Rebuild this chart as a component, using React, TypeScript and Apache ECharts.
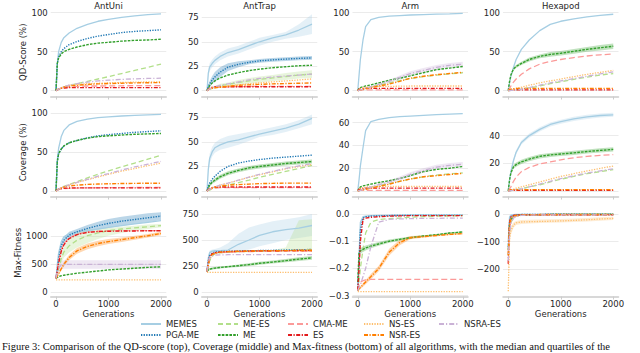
import React, { useEffect, useRef } from 'react';
import * as echarts from 'echarts';

// ---------- data ----------
const GENERATIONS = [0, 25, 50, 100, 150, 250, 400, 600, 800, 1000, 1250, 1500, 1750, 2000];
const ALGORITHMS = ['MEMES', 'PGA-ME', 'ME-ES', 'ME', 'CMA-ME', 'ES', 'NS-ES', 'NSR-ES', 'NSRA-ES'];
const TASKS = ['AntUni', 'AntTrap', 'Arm', 'Hexapod'];
const METRICS = ['QD-Score (%)', 'Coverage (%)', 'Max-Fitness'];
const X_TICKS = [0, 1000, 2000];
const Y_TICK_STEPS = [
  [50, 25, 50, 50],
  [50, 25, 20, 20],
  [500, 250, 0.1, 100],
];
const LEGEND_COLUMNS = [['MEMES', 'PGA-ME'], ['ME-ES', 'ME'], ['CMA-ME', 'ES'], ['NS-ES', 'NSR-ES'], ['NSRA-ES']];
const CAPTION = 'Figure 3: Comparison of the QD-score (top), Coverage (middle) and Max-fitness (bottom) of all algorithms, with the median and quartiles of the';

// rows follow ALGORITHMS order (null: no visible line in that panel)
const QD_ANTUNI = [
  [0, 35, 50, 62, 68, 74, 80, 85, 89, 91.5, 94, 96, 97.5, 98.5],
  [0, 35, 43, 50, 54, 59, 63, 67, 70, 72, 74.5, 76, 77, 78],
  [0, 1, 2, 3.5, 5, 6.5, 9, 12, 15, 18, 22, 26, 30, 34],
  [0, 35, 42, 47, 50, 53, 56, 59, 61, 62, 63.5, 64.5, 65, 66],
  [0, 1, 2, 3, 4, 5, 5.5, 6, 6, 6.2, 6.3, 6.4, 6.5, 6.5],
  [0, 1, 2, 3, 3.5, 4, 4, 4, 4, 4, 4, 4, 4, 4],
  [0, 1, 2, 4, 5, 7, 8, 9, 9.5, 10, 10.5, 11, 11.2, 11.5],
  [0, 1, 2, 3, 4.5, 6, 7, 8, 8.7, 9.2, 9.6, 10, 10.2, 10.4],
  [0, 1, 2, 3.5, 5, 7, 9, 11, 12.5, 13.5, 14.5, 15.2, 15.7, 16],
];
const QD_ANTTRAP = [
  [0, 18, 24, 28, 31, 35, 39, 42, 46, 50, 54, 57, 62, 68],
  [0, 4, 7, 11, 14, 19, 24, 27, 29, 30.5, 31.5, 32.3, 33, 33.5],
  [0, 1, 1.5, 2.5, 3.5, 5, 6.5, 8.5, 10, 11.5, 13, 14.5, 16, 17],
  [0, 3, 5, 8, 10, 13, 16, 18.5, 20.5, 22, 23.5, 24.5, 25.5, 26],
  [0, 1, 2, 3, 3.5, 4, 4, 4.2, 4.3, 4.4, 4.5, 4.5, 4.5, 4.5],
  [0, 1.5, 2.5, 3.5, 3.8, 4, 4, 4, 4, 4, 4, 4, 4, 4],
  [0, 1, 2, 2.5, 3, 4, 5, 6, 7, 8, 9, 10, 11, 12],
  [0, 1, 2, 2.5, 3, 3.5, 4.5, 5.5, 6, 6.5, 7, 7.3, 7.6, 8],
  [0, 1, 2, 3, 4, 5.5, 7, 9, 11, 12.5, 14, 15, 16, 17],
];
const QD_ARM = [
  [0, 20, 40, 65, 82, 91, 94, 95.5, 96.3, 97, 97.6, 98.1, 98.5, 99],
  null,
  [0, 0.5, 1, 2, 3, 5, 7, 10, 13, 15.5, 18, 20, 21.5, 23],
  [0, 3, 4, 5, 6, 7.5, 10, 13.5, 16, 19, 23, 27, 29, 31],
  [0, 0.5, 0.5, 1, 1, 1, 1, 1, 1, 1, 1, 1, 1, 1],
  [0, 2, 2.5, 3, 3, 3, 3, 3, 3, 3, 3, 3, 3, 3],
  [0, 2, 3, 4, 4.5, 5, 5.5, 5.5, 5.8, 6, 6, 6, 6, 6],
  [0, 0.5, 1, 1.5, 2.5, 4, 6, 8.5, 12, 16, 18.5, 20.5, 22, 23.5],
  [0, 0.5, 1, 2, 3, 5, 8, 12, 17, 22, 26, 30, 32.5, 34],
];
const QD_HEXAPOD = [
  [0, 10, 18, 30, 40, 53, 65, 77, 85, 89, 92, 94.5, 96.5, 98],
  null,
  [0, 0, 0.3, 0.6, 1, 2, 3.5, 6, 9, 11.5, 14.5, 17.5, 20, 22],
  [0, 12, 20, 28, 31, 35, 40, 44, 46.5, 48, 50.5, 53, 55, 57],
  [0, 3, 6, 11, 15, 21, 28, 34, 37.5, 40, 42.5, 44.5, 46, 47],
  [0, 0.5, 1, 1, 1, 1, 1, 1, 1, 1, 1, 1, 1, 1],
  [0, 0.5, 1, 2, 3, 4.5, 7, 10, 12.5, 15, 18, 21, 23.5, 26],
  [0, 1, 2, 2.5, 3, 3, 3, 3, 3, 3, 3, 3, 3, 3],
  [0, 0, 0.3, 0.6, 1, 2, 4, 7, 10, 12.5, 15.5, 18.5, 21.5, 24],
];

const COV_ANTUNI = [
  [0, 40, 55, 70, 78, 85, 89.5, 92.5, 94.5, 95.5, 96.5, 97.3, 98, 98.5],
  [0, 38, 48, 54, 58, 62, 65, 68.5, 71, 72.5, 74, 75.5, 76.5, 77.5],
  [0, 1, 2.5, 4, 6, 8.5, 12, 17, 21.5, 26, 31, 36, 41, 46],
  [0, 38, 48, 54, 58, 62, 65, 68, 70, 71, 72, 73, 73.5, 74],
  [0, 1, 2, 2.5, 3, 3.5, 3.8, 4, 4.2, 4.3, 4.4, 4.5, 4.5, 4.5],
  [0, 1.5, 2.5, 3, 3.5, 3.8, 4, 4, 4, 4, 4, 4, 4, 4],
  [0, 1, 2.5, 4, 5.5, 8, 11, 14.5, 18, 21.5, 25.5, 29, 32.5, 36],
  [0, 1, 2.5, 4, 5, 6.5, 7.5, 8.5, 9, 9.3, 9.6, 9.8, 10, 10],
  [0, 1, 2.5, 4, 5.5, 8, 11, 15, 19, 22.5, 27, 31, 34.5, 38],
];
const COV_ANTTRAP = [
  [0, 22, 33, 40, 44, 47, 50, 52, 55, 58, 61, 64, 68, 74],
  [0, 5, 8, 12, 15, 20, 25, 28.5, 30.5, 32, 33.5, 34.5, 35.5, 36.5],
  [0, 0.5, 1, 2, 3, 4, 6, 8.5, 11, 14, 17, 20, 23, 26],
  [0, 3, 6, 9, 11, 14.5, 18, 21, 23.5, 25, 26.5, 28, 29, 30],
  [0, 1, 2, 2.5, 3, 3.5, 3.5, 3.5, 3.5, 3.5, 3.5, 3.5, 3.5, 3.5],
  [0, 1.5, 2.5, 3.5, 3.8, 4, 4, 4, 4, 4, 4, 4, 4, 4],
  [0, 1, 2, 3, 4, 6, 8, 11, 14, 16.5, 19.5, 22.5, 25, 27],
  [0, 1, 2, 3, 4, 5, 6, 6.5, 7, 7.5, 7.8, 8, 8, 8],
  [0, 1, 2, 3, 4, 6, 8, 11, 14, 17, 20, 23, 25.5, 28],
];
const COV_ARM = [
  [0, 10, 22, 38, 53, 61, 63, 64.5, 65.3, 65.8, 66.4, 67, 67.5, 68],
  null,
  [0, 0.3, 0.6, 1, 2, 3, 4.5, 6.5, 8.5, 10.5, 12.5, 14, 15, 16],
  [0, 2.5, 3.5, 4.5, 5, 6, 7.5, 9, 11, 13.5, 17, 19, 20, 21.5],
  [0, 0.3, 0.5, 0.5, 0.5, 0.5, 0.5, 0.5, 0.5, 0.5, 0.5, 0.5, 0.5, 0.5],
  [0, 1.5, 2, 2.3, 2.5, 2.5, 2.5, 2.5, 2.5, 2.5, 2.5, 2.5, 2.5, 2.5],
  [0, 1.5, 2.5, 3, 3.5, 3.8, 4, 4, 4, 4, 4, 4, 4, 4],
  [0, 0.3, 0.6, 1, 1.5, 2.5, 4, 6, 8.5, 10.5, 12.5, 13.5, 14.5, 15.5],
  [0, 0.3, 0.6, 1.2, 2, 3.5, 5.5, 8, 11, 14.5, 18, 21, 22.5, 23.5],
];
const COV_HEXAPOD = [
  [0, 8, 14, 22, 28, 35, 40, 44.5, 48, 50, 52, 53.5, 54.5, 55],
  null,
  [0, 0, 0.3, 0.6, 1, 1.5, 3, 4.5, 6.5, 8.5, 10.5, 12.5, 14, 15.5],
  [0, 8, 13, 17.5, 19, 21, 23, 25, 26, 26.7, 27.5, 28.5, 29.3, 30],
  [0, 1.5, 3, 7, 10, 14, 17, 19.5, 21, 22.5, 24, 25, 25.7, 26.3],
  [0, 0.3, 0.5, 0.5, 0.5, 0.5, 0.5, 0.5, 0.5, 0.5, 0.5, 0.5, 0.5, 0.5],
  [0, 0.3, 0.6, 1.2, 2, 3, 4.5, 6.5, 8.5, 10.5, 12.5, 14.5, 16.3, 18],
  [0, 0.5, 1, 1, 1, 1, 1, 1, 1, 1, 1, 1, 1, 1],
  [0, 0, 0.3, 0.6, 1, 1.5, 3, 5, 7, 9, 11, 13, 14.5, 16],
];

const MF_ANTUNI = [
  [250, 500, 700, 900, 990, 1050, 1080, 1100, 1130, 1160, 1190, 1220, 1250, 1280],
  [250, 400, 600, 830, 930, 1020, 1080, 1140, 1190, 1230, 1270, 1300, 1330, 1360],
  [250, 330, 420, 600, 720, 830, 930, 1010, 1060, 1100, 1130, 1150, 1170, 1190],
  [250, 265, 280, 295, 305, 320, 340, 360, 380, 400, 415, 430, 445, 455],
  [250, 400, 550, 750, 870, 970, 1040, 1075, 1090, 1095, 1100, 1100, 1100, 1100],
  [250, 380, 520, 730, 850, 960, 1030, 1070, 1085, 1090, 1095, 1095, 1100, 1100],
  [220, 220, 220, 220, 220, 220, 220, 220, 220, 220, 220, 220, 220, 220],
  [250, 290, 330, 420, 500, 620, 740, 820, 870, 905, 940, 975, 1010, 1050],
  [250, 350, 430, 490, 500, 500, 500, 500, 500, 500, 500, 500, 500, 500],
];
const MF_ANTTRAP = [
  [200, 330, 380, 395, 398, 400, 405, 460, 501, 545, 580, 600, 615, 640],
  [200, 300, 350, 375, 385, 390, 392, 395, 397, 400, 402, 405, 408, 410],
  [200, 250, 300, 350, 370, 380, 385, 390, 392, 395, 397, 400, 405, 410],
  [200, 215, 222, 228, 232, 238, 245, 255, 265, 278, 290, 303, 318, 330],
  [200, 270, 330, 365, 375, 380, 385, 388, 390, 392, 393, 394, 395, 395],
  [200, 280, 340, 370, 380, 385, 390, 392, 395, 397, 398, 399, 400, 400],
  [190, 190, 190, 190, 190, 190, 190, 190, 190, 190, 190, 190, 190, 190],
  [200, 260, 320, 360, 375, 385, 390, 393, 395, 397, 398, 399, 400, 400],
  [200, 280, 330, 350, 355, 358, 360, 360, 360, 360, 360, 360, 360, 360],
];
const MF_ARM = [
  [-0.28, -0.15, -0.03, -0.01, -0.008, -0.006, -0.005, -0.004, -0.004, -0.003, -0.003, -0.003, -0.003, -0.003],
  [-0.28, -0.18, -0.06, -0.015, -0.01, -0.008, -0.007, -0.006, -0.005, -0.005, -0.005, -0.005, -0.005, -0.005],
  [-0.28, -0.25, -0.2, -0.13, -0.07, -0.03, -0.02, -0.017, -0.015, -0.012, -0.01, -0.008, -0.007, -0.006],
  [-0.25, -0.14, -0.135, -0.13, -0.125, -0.118, -0.11, -0.1, -0.093, -0.087, -0.081, -0.076, -0.07, -0.066],
  [-0.28, -0.26, -0.25, -0.245, -0.242, -0.24, -0.24, -0.24, -0.24, -0.24, -0.24, -0.24, -0.24, -0.24],
  [-0.28, -0.2, -0.1, -0.02, -0.015, -0.012, -0.01, -0.008, -0.007, -0.006, -0.006, -0.006, -0.006, -0.006],
  [-0.285, -0.285, -0.285, -0.285, -0.285, -0.285, -0.285, -0.285, -0.285, -0.285, -0.285, -0.285, -0.285, -0.285],
  [-0.28, -0.275, -0.27, -0.26, -0.25, -0.23, -0.2, -0.14, -0.105, -0.087, -0.083, -0.079, -0.075, -0.072],
  [-0.28, -0.27, -0.26, -0.23, -0.2, -0.12, -0.03, -0.02, -0.018, -0.017, -0.016, -0.016, -0.015, -0.015],
];
const MF_HEXAPOD = [
  [-100, -10, -4, -2, -1.5, -1, -1, -1, -0.8, -0.8, -0.7, -0.7, -0.6, -0.6],
  [-120, -30, -10, -5, -3, -2, -1.5, -1.2, -1, -1, -1, -1, -1, -1],
  [-150, -60, -30, -15, -8, -4, -3, -2.5, -2, -2, -2, -1.5, -1.5, -1.5],
  [-130, -40, -20, -10, -6, -4, -3, -2.5, -2, -2, -1.8, -1.7, -1.6, -1.5],
  [-140, -50, -25, -12, -7, -4, -3, -2.5, -2, -2, -2, -2, -2, -2],
  [-180, -30, -10, -5, -4, -3, -3, -3, -3, -3, -3, -3, -3, -3],
  [-280, -90, -60, -40, -32, -29, -28, -27, -26, -25, -23, -21, -18, -16],
  [-150, -40, -15, -7, -5, -3, -2.5, -2, -2, -2, -2, -2, -2, -2],
  [-170, -70, -35, -15, -8, -5, -4, -3, -3, -3, -3, -3, -3, -3],
];

// shaded ranges (lower / upper)
const BANDS = [
  { row: 0, col: 1, algo: 'MEMES', lo: [0, 14, 20, 24, 27, 31, 35, 38, 42, 46, 50, 53, 55, 58], hi: [0, 22, 28, 32, 35, 39, 43, 46, 50, 54, 57, 60, 68, 78] },
  { row: 0, col: 1, algo: 'PGA-ME', lo: [0, 2, 4, 7, 9, 14, 20, 24, 27, 28.5, 29.5, 30.3, 31, 31.5], hi: [0, 6, 10, 15, 19, 24, 28, 30, 31, 32.5, 33.5, 34.3, 35, 35.5] },
  { row: 0, col: 1, algo: 'ME-ES', lo: [0, 0.5, 1, 1.5, 2, 3, 4.5, 6, 7, 8.5, 10, 11, 12.5, 13], hi: [0, 1.5, 2, 3.5, 5, 7, 8.5, 11, 13, 14.5, 16, 18, 19.5, 21] },
  { row: 0, col: 2, algo: 'NSRA-ES', lo: [0, 0.3, 0.6, 1.5, 2.5, 4, 6.5, 10, 14.5, 19, 23, 27, 29.5, 31], hi: [0, 0.7, 1.4, 2.5, 3.5, 6, 9.5, 14, 19.5, 25, 29, 33, 35.5, 37] },
  { row: 0, col: 3, algo: 'ME', lo: [0, 10, 18, 26, 29, 33, 37.5, 41.5, 43.5, 45, 47.5, 50, 51.5, 53.5], hi: [0, 14, 22, 30, 33, 37, 42.5, 46.5, 49.5, 51, 53.5, 56, 58.5, 60.5] },
  { row: 1, col: 1, algo: 'MEMES', lo: [0, 18, 28, 35, 39, 42, 44, 47, 51, 55, 57, 60, 64, 68], hi: [0, 26, 38, 45, 49, 53, 56, 58, 60, 62, 65, 68, 72, 78] },
  { row: 1, col: 1, algo: 'ME', lo: [0, 2, 4.5, 7.5, 9, 12.5, 16, 19, 21.5, 23, 24.5, 26, 27, 28], hi: [0, 4, 7.5, 10.5, 13, 16.5, 20, 23, 25.5, 27, 28.5, 30, 31, 32] },
  { row: 1, col: 2, algo: 'NSRA-ES', lo: [0, 0.2, 0.4, 0.8, 1.4, 2.6, 4.3, 6.5, 9.3, 12.6, 16, 19, 20.5, 21.5], hi: [0, 0.4, 0.8, 1.6, 2.6, 4.4, 6.7, 9.5, 12.7, 16.4, 20, 23, 24.5, 25.5] },
  { row: 1, col: 3, algo: 'MEMES', lo: [0, 7, 12.5, 20.5, 26.5, 33.5, 38.5, 43, 46.5, 48.5, 50.5, 52, 53, 53.5], hi: [0, 9, 15.5, 23.5, 29.5, 36.5, 41.5, 46, 49.5, 51.5, 53.5, 55, 56, 56.5] },
  { row: 1, col: 3, algo: 'ME', lo: [0, 7, 11.5, 16, 17.5, 19.5, 21.5, 23.5, 24.5, 25.2, 26, 27, 27.8, 28.5], hi: [0, 9, 14.5, 19, 20.5, 22.5, 24.5, 26.5, 27.5, 28.2, 29, 30, 30.8, 31.5] },
  { row: 2, col: 0, algo: 'PGA-ME', lo: [250, 370, 560, 790, 880, 960, 1020, 1080, 1120, 1150, 1190, 1220, 1250, 1290], hi: [250, 430, 640, 870, 980, 1080, 1130, 1200, 1260, 1310, 1350, 1380, 1410, 1430] },
  { row: 2, col: 0, algo: 'ME-ES', lo: [250, 300, 370, 520, 620, 710, 800, 880, 950, 1010, 1060, 1100, 1130, 1160], hi: [250, 360, 470, 680, 820, 950, 1060, 1120, 1130, 1150, 1170, 1190, 1210, 1220] },
  { row: 2, col: 0, algo: 'NSR-ES', lo: [250, 280, 310, 390, 460, 570, 690, 770, 820, 860, 900, 940, 980, 1020], hi: [250, 300, 350, 450, 540, 670, 790, 870, 920, 950, 980, 1010, 1040, 1080] },
  { row: 2, col: 0, algo: 'NSRA-ES', lo: [250, 320, 380, 420, 420, 420, 420, 420, 420, 420, 420, 420, 420, 420], hi: [250, 380, 480, 560, 570, 570, 570, 570, 570, 570, 570, 570, 570, 570] },
  { row: 2, col: 1, algo: 'MEMES', lo: [200, 310, 360, 380, 385, 388, 390, 395, 410, 440, 470, 500, 520, 540], hi: [200, 350, 400, 410, 415, 430, 470, 560, 620, 650, 680, 700, 720, 750] },
  { row: 2, col: 1, algo: 'ME-ES', lo: [200, 240, 290, 340, 360, 370, 378, 383, 386, 388, 390, 392, 395, 400], hi: [200, 260, 310, 360, 380, 390, 393, 397, 400, 402, 405, 430, 690, 700] },
  { row: 2, col: 1, algo: 'ME', lo: [200, 205, 212, 218, 222, 228, 235, 243, 252, 263, 275, 288, 300, 312], hi: [200, 225, 232, 238, 242, 248, 255, 267, 278, 293, 305, 318, 336, 348] },
  { row: 2, col: 2, algo: 'ME', lo: [-0.25, -0.15, -0.145, -0.14, -0.134, -0.126, -0.117, -0.106, -0.098, -0.091, -0.084, -0.079, -0.073, -0.069], hi: [-0.25, -0.13, -0.125, -0.12, -0.116, -0.11, -0.103, -0.094, -0.088, -0.083, -0.078, -0.073, -0.067, -0.063] },
  { row: 2, col: 2, algo: 'NSR-ES', lo: [-0.28, -0.28, -0.275, -0.267, -0.258, -0.24, -0.21, -0.152, -0.115, -0.093, -0.087, -0.082, -0.078, -0.075], hi: [-0.28, -0.27, -0.265, -0.253, -0.242, -0.22, -0.19, -0.128, -0.095, -0.081, -0.079, -0.076, -0.072, -0.069] },
  { row: 2, col: 3, algo: 'NS-ES', lo: [-290, -110, -75, -50, -40, -36, -34, -33, -32, -31, -29, -27, -24, -22], hi: [-270, -70, -45, -30, -25, -22, -21, -20, -19, -18, -16, -14, -12, -10] },
];

const PANELS = [
  [QD_ANTUNI, QD_ANTTRAP, QD_ARM, QD_HEXAPOD],
  [COV_ANTUNI, COV_ANTTRAP, COV_ARM, COV_HEXAPOD],
  [MF_ANTUNI, MF_ANTTRAP, MF_ARM, MF_HEXAPOD],
];

// ---------- styles / layout ----------
const SERIES_STYLE: Record<string, { color: string; type: any; width: number }> = {
  'MEMES': { color: '#a6cee3', type: 'solid', width: 1.3 },
  'PGA-ME': { color: '#1f78b4', type: [1.3, 1.3], width: 1.4 },
  'ME-ES': { color: '#b2df8a', type: [5, 3], width: 1.3 },
  'ME': { color: '#33a02c', type: [2.6, 1.2], width: 1.4 },
  'CMA-ME': { color: '#fb9a99', type: [6, 3], width: 1.3 },
  'ES': { color: '#e31a1c', type: [4, 1.5, 1.2, 1.5], width: 1.4 },
  'NS-ES': { color: '#fdbf6f', type: [1.3, 1.3], width: 1.3 },
  'NSR-ES': { color: '#ff7f00', type: [4, 1.5, 1.2, 1.5], width: 1.4 },
  'NSRA-ES': { color: '#cab2d6', type: [5, 2, 1.2, 2], width: 1.3 },
};
const FONT = 'DejaVu Sans';
const TEXT_COLOR = '#262626';
const COL_LEFT = [50.75, 201.75, 352.5, 503];
const PLOT_WIDTH = 115.5;
const ROW_TOP = [8, 108, 209];
const ROW_BOTTOM = [96.5, 196.5, 296.5];
const Y_RANGE = [
  [[-7.44, 106], [-5.93, 84.5], [-7.44, 106], [-7.44, 106]],
  [[-7.08, 106.8], [-5.6, 84.5], [-4.83, 72.9], [-3.98, 59.9]],
  [[-75, 1487], [-40.2, 798], [-0.30297, 0.01836], [-299, 18.2]],
];
const LEGEND_LEFT = [140, 217, 287, 363, 438];

function fmt(step: number) {
  return (v: number) => {
    const a = Math.abs(v);
    const s = step < 1 ? a.toFixed(1) : String(Math.round(a));
    return (v < -1e-9 ? '\u2212' : '') + s;
  };
}

function buildOption() {
  const grid: any[] = [];
  const xAxis: any[] = [];
  const yAxis: any[] = [];
  const series: any[] = [];
  const title: any[] = [];

  TASKS.forEach((t, c) => {
    title.push({
      text: t, left: COL_LEFT[c] + PLOT_WIDTH / 2, top: 1, padding: 0, textAlign: 'center',
      textStyle: { fontFamily: FONT, fontSize: 8.5, fontWeight: 'normal', color: TEXT_COLOR },
    });
  });

  PANELS.forEach((rowPanels, r) => {
    rowPanels.forEach((panel, c) => {
      const k = r * 4 + c;
      grid.push({
        left: COL_LEFT[c], width: PLOT_WIDTH, top: ROW_TOP[r], height: ROW_BOTTOM[r] - ROW_TOP[r],
        containLabel: false, outerBoundsMode: 'none',
      });
      const bottomRow = r === 2;
      xAxis.push({
        type: 'value', gridIndex: k, min: -100, max: 2100, minInterval: 1000, maxInterval: 1000,
        splitLine: { show: false },
        axisLine: { show: true, onZero: false, lineStyle: { color: '#cccccc', width: 1.5 } },
        axisTick: { show: true, customValues: X_TICKS, length: 3, lineStyle: { color: '#cccccc', width: 1 } },
        axisLabel: {
          show: bottomRow, customValues: X_TICKS, formatter: (v: number) => String(v),
          fontFamily: FONT, fontSize: 8.5, color: TEXT_COLOR, margin: 3,
        },
        name: bottomRow ? 'Generations' : '', nameLocation: 'middle', nameGap: 12,
        nameTextStyle: { fontFamily: FONT, fontSize: 8.5, color: TEXT_COLOR },
      });
      const step = Y_TICK_STEPS[r][c];
      yAxis.push({
        type: 'value', gridIndex: k, min: Y_RANGE[r][c][0], max: Y_RANGE[r][c][1],
        minInterval: step, maxInterval: step,
        axisLine: { show: false }, axisTick: { show: false },
        splitLine: { show: true, showMinLine: false, showMaxLine: false, lineStyle: { color: '#ebebeb', width: 1 } },
        axisLabel: {
          showMinLabel: false, showMaxLabel: false, formatter: fmt(step),
          fontFamily: FONT, fontSize: 8.5, color: TEXT_COLOR, margin: 3,
        },
        name: c === 0 ? METRICS[r] : '', nameLocation: 'middle', nameGap: r === 2 ? 25.5 : 21.5,
        nameTextStyle: { fontFamily: FONT, fontSize: 8.5, color: TEXT_COLOR },
      });

      BANDS.filter((b) => b.row === r && b.col === c).forEach((b) => {
        const st = SERIES_STYLE[b.algo];
        series.push({
          type: 'custom', name: '_band', xAxisIndex: k, yAxisIndex: k, silent: true,
          coordinateSystem: 'cartesian2d',
          data: [[GENERATIONS[0], b.lo[0]]],
          encode: { x: 0, y: 1 },
          renderItem: (_params: any, api: any) => {
            const pts: number[][] = [];
            GENERATIONS.forEach((g, j) => pts.push(api.coord([g, b.lo[j]])));
            for (let j = GENERATIONS.length - 1; j >= 0; j--) pts.push(api.coord([GENERATIONS[j], b.hi[j]]));
            return { type: 'polygon', shape: { points: pts }, style: { fill: st.color, opacity: 0.3, stroke: 'none' } };
          },
        });
      });

      panel.forEach((vals, a) => {
        if (!vals) return;
        const name = ALGORITHMS[a];
        const st = SERIES_STYLE[name];
        series.push({
          type: 'line', name, xAxisIndex: k, yAxisIndex: k, symbol: 'none', showSymbol: false,
          silent: true, emphasis: { disabled: true },
          lineStyle: { color: st.color, width: st.width, type: st.type },
          itemStyle: { color: st.color },
          data: GENERATIONS.map((g, j) => [g, vals[j]]),
        });
      });
    });
  });

  const legend = LEGEND_COLUMNS.map((names, i) => ({
    data: names, orient: 'vertical', left: LEGEND_LEFT[i], top: 318.5, padding: 0,
    itemWidth: 20, itemHeight: 8, itemGap: 0, selectedMode: false,
    itemStyle: { color: 'transparent', borderColor: 'transparent', borderWidth: 0, opacity: 0 },
    textStyle: { fontFamily: FONT, fontSize: 8.5, color: TEXT_COLOR, lineHeight: 11 },
  }));

  return {
    animation: false,
    backgroundColor: '#ffffff',
    title, grid, xAxis, yAxis, series, legend,
    graphic: [{
      type: 'text', x: 2, y: 341,
      style: { text: CAPTION, fontFamily: 'Liberation Serif', fontSize: 10.5, fill: '#111111' },
    }],
  };
}

export default function App() {
  const ref = useRef<HTMLDivElement>(null);
  useEffect(() => {
    document.body.style.margin = '0';
    if (!ref.current) return;
    const chart = echarts.init(ref.current, undefined, { renderer: 'svg' });
    chart.setOption(buildOption() as any);
    return () => chart.dispose();
  }, []);
  return <div ref={ref} style={{ width: 640, height: 353 }} />;
}
